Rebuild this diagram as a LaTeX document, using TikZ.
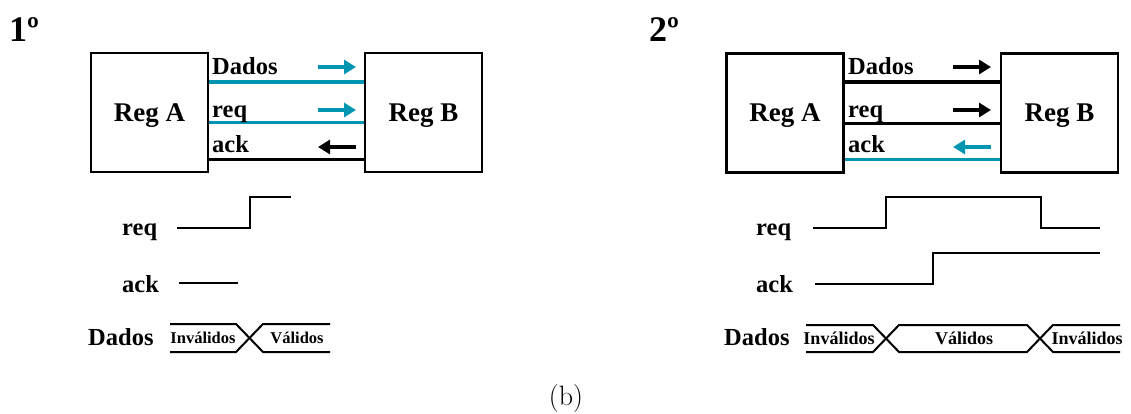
\documentclass[tikz,border=0pt]{standalone}
\usepackage{fontspec}
\newfontfamily\tms{Liberation Serif}
\usetikzlibrary{arrows.meta}
\definecolor{sig}{RGB}{0,150,178}
\begin{document}
\begin{tikzpicture}[x=1pt,y=-1pt,
  reg/.style={draw,line width=2.6pt,minimum width=117pt,minimum height=119pt,inner sep=0pt,
    text depth=0pt,font=\tms\bfseries\fontsize{27}{30}\selectfont},
  wlabel/.style={anchor=base west,inner sep=0pt,font=\tms\bfseries\fontsize{24.5}{28}\selectfont},
  busbig/.style={line width=4.5pt},
  busthin/.style={line width=3pt},
  flow/.style={line width=3.5pt,-{Triangle[length=12pt,width=14pt]}},
  wave/.style={line width=2pt},
  val/.style={anchor=base,inner sep=0pt,font=\tms\bfseries\fontsize{16.5}{20}\selectfont},
  valb/.style={anchor=base,inner sep=0pt,font=\tms\bfseries\fontsize{18}{22}\selectfont},
  step label/.style={anchor=base west,inner sep=0pt,font=\tms\bfseries\fontsize{36}{40}\selectfont}]
\useasboundingbox (0,0) rectangle (1131,414);

% ---------- first step ----------
\node[step label] (s1) at (9,42) {1º};
\node[reg] (a1) at (149.5,112.5) {Reg A};
\node[reg] (b1) at (423.5,112.5) {Reg B};
\draw[busbig,sig]  (a1.east |- 0,82)  -- (b1.west |- 0,82);
\draw[busthin,sig] (a1.east |- 0,123) -- (b1.west |- 0,123);
\draw[busthin]     (a1.east |- 0,160) -- (b1.west |- 0,160);
\node[wlabel] (d1) at (212,75)  {Dados};
\node[wlabel] (r1) at (212,118) {req};
\node[wlabel] (k1) at (212,153) {ack};
\draw[flow,sig] (318,67)  -- (356,67);
\draw[flow,sig] (318,110) -- (356,110);
\draw[flow]     (356,147) -- (318,147);

\node[wlabel] (tr1) at (122,235) {req};
\node[wlabel] (ta1) at (122,292) {ack};
\node[wlabel] (td1) at (88,345)  {Dados};
\draw[wave] (177,228) -- (250,228) -- (250,197) -- (291,197);
\draw[wave] (179,283) -- (238,283);
\draw[wave] (170,324) -- (236,324) -- (263,352) -- (330,352);
\draw[wave] (170,352) -- (236,352) -- (263,324) -- (330,324);
\node[val] (i1) at (203,343)   {Inválidos};
\node[val] (v1) at (297,343)   {Válidos};

% ---------- second step ----------
\node[step label] (s2) at (649,42) {2º};
\node[reg] (a2) at (785,113) {Reg A};
\node[reg] (b2) at (1059.5,113) {Reg B};
\draw[busbig]      (a2.east |- 0,82)  -- (b2.west |- 0,82);
\draw[busthin]     (a2.east |- 0,124) -- (b2.west |- 0,124);
\draw[busthin,sig] (a2.east |- 0,160) -- (b2.west |- 0,160);
\node[wlabel] (d2) at (848,75)  {Dados};
\node[wlabel] (r2) at (848,118) {req};
\node[wlabel] (k2) at (848,153) {ack};
\draw[flow]     (953,67)  -- (991,67);
\draw[flow]     (953,110) -- (991,110);
\draw[flow,sig] (991,147) -- (953,147);

\node[wlabel] (tr2) at (756,235) {req};
\node[wlabel] (ta2) at (756,292) {ack};
\node[wlabel] (td2) at (724,345) {Dados};
\draw[wave] (813,228) -- (886,228) -- (886,197) -- (1041,197) -- (1041,228) -- (1100,228);
\draw[wave] (815,284) -- (933,284) -- (933,253) -- (1100,253);
\draw[wave] (806,325) -- (873,325) -- (899,352) -- (1027,352) -- (1053,325) -- (1120,325);
\draw[wave] (806,352) -- (873,352) -- (899,325) -- (1027,325) -- (1053,352) -- (1120,352);
\node[valb] (i2) at (839,344)  {Inválidos};
\node[valb] (v2) at (964,344)  {Válidos};
\node[valb] (i3) at (1087,344) {Inválidos};

\node[anchor=base,inner sep=0pt,font=\fontsize{28}{34}\selectfont] (cap) at (566,405) {(b)};
\end{tikzpicture}
\end{document}
